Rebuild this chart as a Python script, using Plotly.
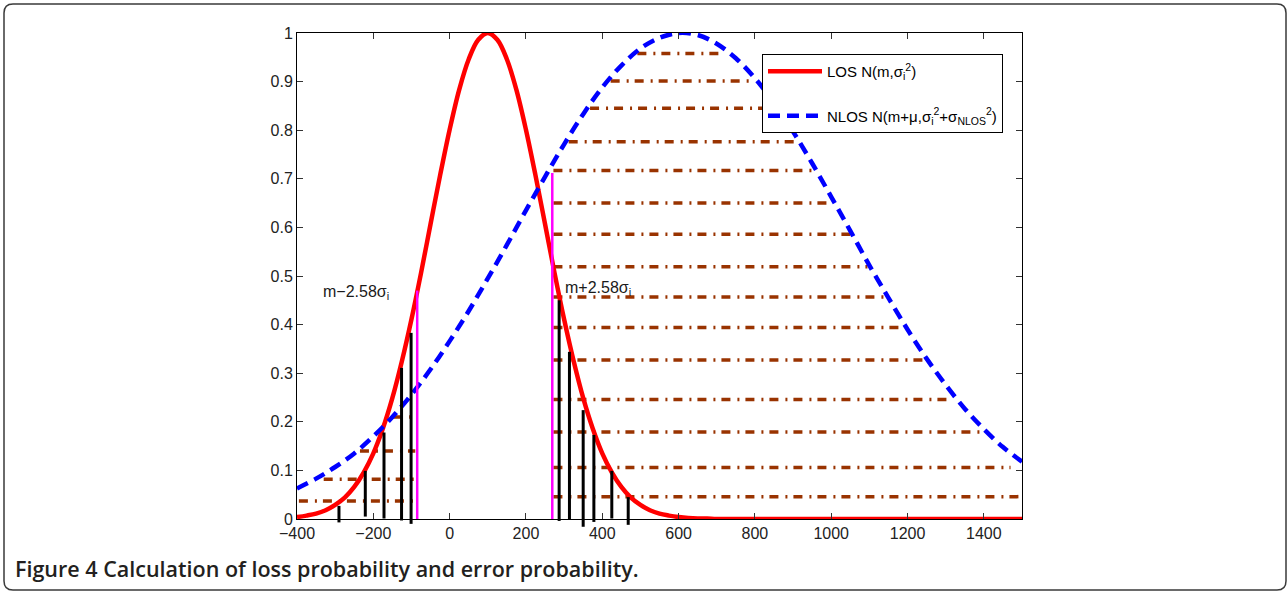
import plotly.graph_objects as go

# ---------------- data ----------------
los_x = [-400, -375, -350, -325, -300, -275, -250, -225, -200, -175, -150, -125, -100,
         -75, -50, -25, 0, 25, 50, 75, 100, 125, 150, 175, 200, 225, 250, 275, 300,
         325, 350, 375, 400, 425, 450, 475, 500, 525, 550, 575, 600, 625, 650, 675,
         700, 800, 900, 1000, 1100, 1200, 1300, 1400, 1500]
los_y = [0.004, 0.007, 0.011, 0.018, 0.029, 0.044, 0.066, 0.096, 0.135, 0.186, 0.249,
         0.325, 0.411, 0.506, 0.607, 0.707, 0.801, 0.883, 0.946, 0.986, 1.000, 0.986,
         0.946, 0.883, 0.801, 0.707, 0.607, 0.506, 0.411, 0.325, 0.249, 0.186, 0.135,
         0.096, 0.066, 0.044, 0.029, 0.018, 0.011, 0.007, 0.004, 0.002, 0.001, 0.001,
         0.000, 0.000, 0.000, 0.000, 0.000, 0.000, 0.000, 0.000, 0.000]
nlos_x = [-400, -350, -300, -250, -200, -150, -100, -50, 0, 50, 100, 150, 200, 250,
          300, 350, 400, 450, 500, 550, 600, 650, 700, 750, 800, 850, 900, 950,
          1000, 1050, 1100, 1150, 1200, 1250, 1300, 1350, 1400, 1450, 1500]
nlos_y = [0.063, 0.083, 0.107, 0.135, 0.170, 0.210, 0.256, 0.308, 0.366, 0.428, 0.495,
          0.564, 0.635, 0.704, 0.771, 0.833, 0.888, 0.933, 0.968, 0.990, 1.000, 0.996,
          0.978, 0.948, 0.907, 0.856, 0.797, 0.732, 0.663, 0.593, 0.522, 0.455, 0.390,
          0.330, 0.276, 0.227, 0.185, 0.148, 0.118]

# threshold lines m -/+ 2.58 sigma
thr_x = [-85, 269]
thr_top = [0.470, 0.712]
thr_labels = ["m−2.58σ<sub>i</sub>", "m+2.58σ<sub>i</sub>"]
thr_label_x = [-336, 298]
thr_label_y = [0.466, 0.475]

# black stems (loss region)
stem_x = [-290, -221, -172, -126, -101, 287, 314, 350, 378, 425, 468]
stem_top = [0.027, 0.099, 0.178, 0.311, 0.383, 0.450, 0.344, 0.224, 0.173, 0.099, 0.045]
stem_bottom = [-0.007, 0.005, 0.001, -0.003, -0.010, -0.004, -0.002, -0.016, -0.006,
               0.001, -0.012]

# brown dash-dot hatch (error region)
hatch_y = [0.037, 0.082, 0.140, 0.210,
           0.046, 0.106, 0.179, 0.246, 0.327, 0.394, 0.457, 0.519, 0.586, 0.650,
           0.717, 0.776, 0.845, 0.901, 0.958]
hatch_x0 = [-395, -330, -235, -148,
            272, 272, 272, 272, 272, 272, 272, 272, 272, 272, 272, 312, 368, 422, 492]
hatch_x1 = [-90, -90, -90, -90,
            1497, 1470, 1395, 1315, 1245, 1195, 1140, 1095, 1050, 1002, 955, 905, 850,
            795, 715]

x_ticks = [-400, -200, 0, 200, 400, 600, 800, 1000, 1200, 1400]
y_ticks = [0, 0.1, 0.2, 0.3, 0.4, 0.5, 0.6, 0.7, 0.8, 0.9, 1]

caption = "Figure 4 Calculation of loss probability and error probability."

# ---------------- layout geometry (pixels) ----------------
W, H = 1288, 592
L, R, T, B = 297, 1022, 33, 519   # plot area


def px(xpix):
    return (xpix - L) / (R - L)


def py(ypix):
    return (B - ypix) / (B - T)


FONT = "Liberation Sans, Arial, Helvetica, sans-serif"
BROWN = "#993300"

fig = go.Figure()

# hatch lines
hx, hy = [], []
for y, a, b in zip(hatch_y, hatch_x0, hatch_x1):
    hx += [a, b, None]
    hy += [y, y, None]
fig.add_trace(go.Scatter(x=hx, y=hy, mode="lines", showlegend=False, hoverinfo="skip",
                         line=dict(color=BROWN, width=3.5, dash="9px,7px,2px,6px")))

fig.add_trace(go.Scatter(x=los_x, y=los_y, mode="lines",
                         name="LOS N(m,σ<sub>i</sub><sup>2</sup>)",
                         legendgroup="a", line=dict(color="#ff0000", width=4.5, shape="spline")))
fig.add_trace(go.Scatter(x=nlos_x, y=nlos_y, mode="lines",
                         name="NLOS N(m+μ,σ<sub>i</sub><sup>2</sup>+σ<sub>NLOS</sub><sup>2</sup>)",
                         legendgroup="b",
                         line=dict(color="#0000ff", width=4.5, dash="12px,7px", shape="spline")))

shapes = []
for x, t, b in zip(stem_x, stem_top, stem_bottom):
    shapes.append(dict(type="line", xref="x", yref="paper", x0=x, x1=x, y0=b, y1=t,
                       line=dict(color="black", width=3), layer="above"))
for x, t in zip(thr_x, thr_top):
    shapes.append(dict(type="line", xref="x", yref="paper", x0=x, x1=x, y0=0, y1=t,
                       line=dict(color="#ff00ff", width=2.5), layer="above"))

# rounded outer frame
fl, fr, ft, fb, rr = 4, 1286, 4, 590, 9
path = (f"M {px(fl + rr)},{py(ft)} L {px(fr - rr)},{py(ft)} "
        f"Q {px(fr)},{py(ft)} {px(fr)},{py(ft + rr)} L {px(fr)},{py(fb - rr)} "
        f"Q {px(fr)},{py(fb)} {px(fr - rr)},{py(fb)} L {px(fl + rr)},{py(fb)} "
        f"Q {px(fl)},{py(fb)} {px(fl)},{py(fb - rr)} L {px(fl)},{py(ft + rr)} "
        f"Q {px(fl)},{py(ft)} {px(fl + rr)},{py(ft)} Z")
shapes.append(dict(type="path", xref="paper", yref="paper", path=path,
                   line=dict(color="#3a3a3a", width=1.5), layer="below"))

annotations = []
for t, x, y in zip(thr_labels, thr_label_x, thr_label_y):
    annotations.append(dict(x=x, y=y, xref="x", yref="y", text=t, showarrow=False,
                            xanchor="left", yanchor="middle",
                            font=dict(family=FONT, size=16, color="#1a1a1a")))
annotations.append(dict(x=px(13), y=py(568), xref="paper", yref="paper",
                        text=caption, showarrow=False, xanchor="left",
                        yanchor="middle",
                        font=dict(family="Open Sans, sans-serif", size=21.5, weight=600,
                                  color="#231f20")))

axis_common = dict(showline=True, linecolor="black", linewidth=1, mirror="ticks",
                   ticks="inside", ticklen=6, tickcolor="#333333", showgrid=False,
                   zeroline=False, tickfont=dict(family=FONT, size=16, color="#222222"))

fig.update_layout(
    width=W, height=H,
    margin=dict(l=L, r=W - R, t=T, b=H - B),
    paper_bgcolor="white", plot_bgcolor="white",
    xaxis=dict(range=[-400, 1500], tickvals=x_ticks, **axis_common),
    yaxis=dict(range=[0, 1], tickvals=y_ticks, ticktext=[f"{v:g}" for v in y_ticks],
               **axis_common),
    legend=dict(x=px(762), y=py(54), xanchor="left", yanchor="top",
                bgcolor="white", bordercolor="black", borderwidth=1,
                font=dict(family=FONT, size=15, color="black"),
                tracegroupgap=22, itemwidth=54),
    shapes=shapes,
    annotations=annotations,
    showlegend=True,
)

fig.write_html("out.html", config={"displayModeBar": False},
               post_script="document.body.style.margin='0';")
